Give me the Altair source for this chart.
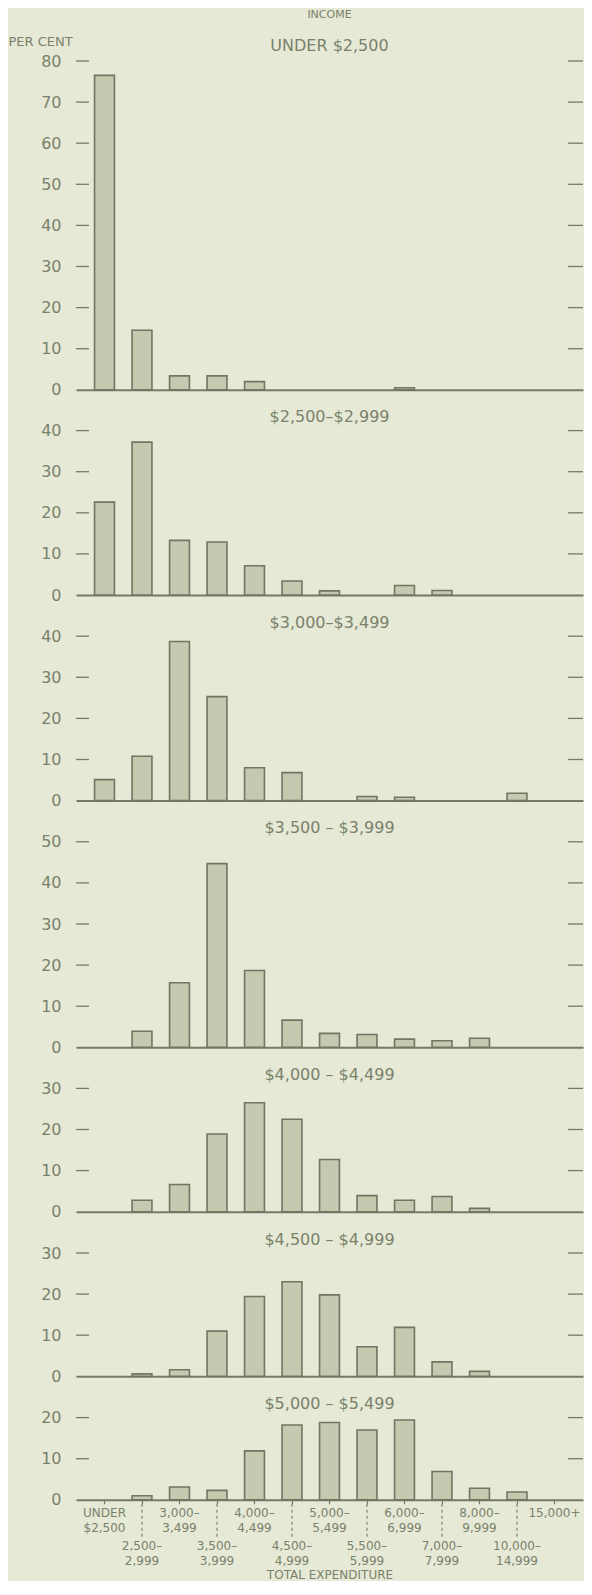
import altair as alt
import pandas as pd

# ---------------- data ----------------
categories = ["Under $2,500", "$2,500-2,999", "$3,000-3,499", "$3,500-3,999",
              "$4,000-4,499", "$4,500-4,999", "$5,000-5,499", "$5,500-5,999",
              "$6,000-6,999", "$7,000-7,999", "$8,000-9,999", "$10,000-14,999",
              "$15,000+"]
label_line1 = ["UNDER", "2,500–", "3,000–", "3,500–", "4,000–", "4,500–", "5,000–",
               "5,500–", "6,000–", "7,000–", "8,000–", "10,000–", "15,000+"]
label_line2 = ["$2,500", "2,999", "3,499", "3,999", "4,499", "4,999", "5,499",
               "5,999", "6,999", "7,999", "9,999", "14,999", ""]
label_row = [0, 1, 0, 1, 0, 1, 0, 1, 0, 1, 0, 1, 0]

income_groups = ["UNDER $2,500", "$2,500–$2,999", "$3,000–$3,499",
                 "$3,500 – $3,999", "$4,000 – $4,499", "$4,500 – $4,999",
                 "$5,000 – $5,499"]

pct_under_2500 = [76.5, 14.5, 3.4, 3.4, 2.0, 0, 0, 0, 0.5, 0, 0, 0, 0]
pct_2500_2999 = [22.6, 37.2, 13.3, 12.9, 7.1, 3.4, 1.0, 0, 2.3, 1.1, 0, 0, 0]
pct_3000_3499 = [5.1, 10.8, 38.7, 25.3, 8.0, 6.8, 0, 1.0, 0.8, 0, 0, 1.8, 0]
pct_3500_3999 = [0, 3.9, 15.7, 44.7, 18.7, 6.6, 3.4, 3.1, 2.0, 1.6, 2.2, 0, 0]
pct_4000_4499 = [0, 2.8, 6.6, 18.9, 26.5, 22.5, 12.7, 3.9, 2.8, 3.7, 0.8, 0, 0]
pct_4500_4999 = [0, 0.6, 1.6, 11.0, 19.4, 23.0, 19.8, 7.2, 11.9, 3.5, 1.2, 0, 0]
pct_5000_5499 = [0, 1.0, 3.1, 2.3, 11.9, 18.2, 18.8, 17.0, 19.4, 6.9, 2.8, 1.9, 0]

axis_max = [80, 40, 40, 50, 30, 30, 20]

series = [pct_under_2500, pct_2500_2999, pct_3000_3499, pct_3500_3999,
          pct_4000_4499, pct_4500_4999, pct_5000_5499]

# ---------------- style ----------------
FONT = "DejaVu Sans"
BG = "#e5e9d5"
TEXT = "#7a816c"
LINE = "#747b67"
BAR_FILL = "#c5c9b0"
BAR_STROKE = "#6f7662"
W = 507
PX_PER_UNIT = 4.11

xscale = alt.Scale(domain=categories, paddingInner=0.47, paddingOuter=0.495,
                   align=0.5)


def panel(i):
    n = len(series)
    last = i == n - 1
    H = axis_max[i] * PX_PER_UNIT
    df = pd.DataFrame({"cat": categories, "pct": series[i],
                       "line1": label_line1, "line2": label_line2,
                       "row": label_row})
    ticks = list(range(0, axis_max[i] + 1, 10))

    xaxis = alt.Axis(labels=False, ticks=last, tickSize=4, tickColor=LINE,
                     tickWidth=1.2, domain=True, domainColor=LINE,
                     domainWidth=2,
                     title="TOTAL EXPENDITURE" if last else None,
                     titleY=75, titleBaseline="middle", titleFontSize=12,
                     titleFontWeight="normal", titleColor=TEXT, titleFont=FONT,
                     grid=False)
    if i == 0:
        yaxis = alt.Axis(values=ticks, domain=False, ticks=False, tickSize=0,
                         labelPadding=15, labelFontSize=16, labelColor=TEXT,
                         labelFont=FONT, grid=False,
                         title="PER CENT", titleAngle=0, titleAlign="left",
                         titleBaseline="middle", titleX=-68, titleY=-19.7,
                         titleFontSize=13, titleFontWeight="normal",
                         titleColor=TEXT, titleFont=FONT)
    else:
        yaxis = alt.Axis(values=ticks, domain=False, ticks=False, tickSize=0,
                         labelPadding=15, labelFontSize=16, labelColor=TEXT,
                         labelFont=FONT, grid=False, title=None)

    yscale = alt.Scale(domain=[0, axis_max[i]], nice=False)
    xs = alt.X("cat:N", sort=categories, scale=xscale, axis=xaxis)

    base = alt.Chart(df)
    bars = base.mark_bar(fill=BAR_FILL, stroke=BAR_STROKE, strokeWidth=1.6).encode(
        x=xs,
        y=alt.Y("pct:Q", scale=yscale, axis=yaxis),
    ).transform_filter("datum.pct > 0")

    tick_df = pd.DataFrame({"pct": ticks[1:]})
    lt = alt.Chart(tick_df).mark_rule(color=LINE, strokeWidth=1.3).encode(
        y=alt.Y("pct:Q", scale=yscale, axis=yaxis),
        x=alt.value(0), x2=alt.value(13))
    rt = alt.Chart(tick_df).mark_rule(color=LINE, strokeWidth=1.3).encode(
        y=alt.Y("pct:Q", scale=yscale, axis=yaxis),
        x=alt.value(W - 15), x2=alt.value(W))

    # panel heading (income class)
    head_df = pd.DataFrame({"t": [income_groups[i]]})
    head = alt.Chart(head_df).mark_text(
        font=FONT, fontSize=16, color=TEXT, align="center", baseline="middle"
    ).encode(text="t:N", x=alt.value(W / 2), y=alt.value(-15 if i == 0 else -13.4))

    layers = [bars, lt, rt, head]
    if i == 0:
        inc = alt.Chart(pd.DataFrame({"t": ["INCOME"]})).mark_text(
            font=FONT, fontSize=11, color=TEXT, align="center", baseline="middle"
        ).encode(text="t:N", x=alt.value(W / 2), y=alt.value(-46))
        layers.append(inc)
    if last:
        dashes = base.mark_rule(color=LINE, strokeWidth=1.1,
                                strokeDash=[3, 3]).encode(
            x=xs, y=alt.value(H + 4), y2=alt.value(H + 40)
        ).transform_filter("datum.row == 1")
        txt = dict(font=FONT, fontSize=12, color=TEXT, align="center",
                   baseline="middle")
        t0a = base.mark_text(**txt).encode(x=xs, y=alt.value(H + 13),
                                           text="line1:N").transform_filter("datum.row == 0")
        t0b = base.mark_text(**txt).encode(x=xs, y=alt.value(H + 28),
                                           text="line2:N").transform_filter("datum.row == 0")
        t1a = base.mark_text(**txt).encode(x=xs, y=alt.value(H + 46),
                                           text="line1:N").transform_filter("datum.row == 1")
        t1b = base.mark_text(**txt).encode(x=xs, y=alt.value(H + 61),
                                           text="line2:N").transform_filter("datum.row == 1")
        layers += [dashes, t0a, t0b, t1a, t1b]

    return alt.layer(*layers).properties(width=W, height=H)


chart = alt.vconcat(*[panel(i) for i in range(len(series))],
                    spacing=40.6, bounds="flush").properties(
    padding={"left": 0, "top": 1, "right": 0, "bottom": 0},
    background=BG,
).configure_view(stroke=None)

chart.save("out.html", embed_options={"renderer": "svg", "actions": False})
